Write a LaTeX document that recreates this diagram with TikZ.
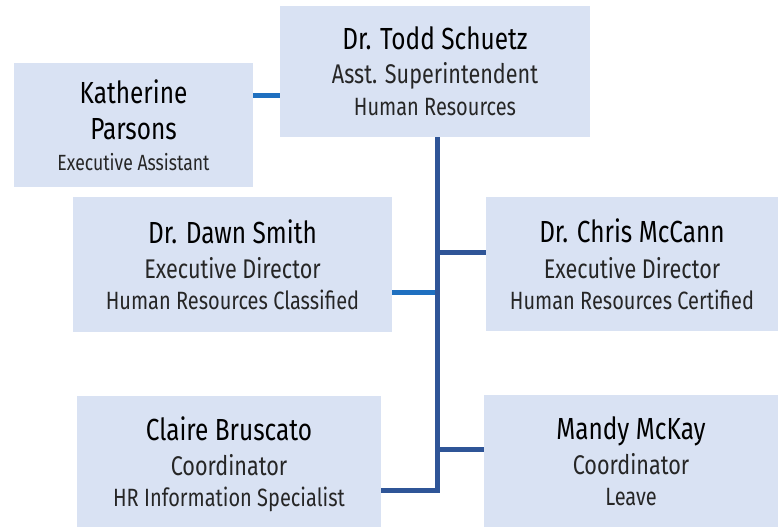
\documentclass[tikz,border=0pt]{standalone}
\usepackage{fontspec}
\setmainfont[FakeStretch=0.8]{Fira Sans}
\usepackage{tikz}

\definecolor{boxfill}{HTML}{D9E2F3}
\definecolor{trunkblue}{HTML}{2F5597}
\definecolor{linkblue}{HTML}{1F70C0}
\definecolor{subgray}{HTML}{262626}

\newcommand{\staffname}[1]{{\fontsize{30.5}{33}\selectfont\color{black}#1}}
\newcommand{\staffrole}[1]{{\fontsize{27}{33}\selectfont\color{subgray}#1}}
\newcommand{\staffdept}[1]{{\fontsize{25}{33}\selectfont\color{subgray}#1}}

\tikzset{
	staffbox/.style={shape=rectangle,fill=boxfill,inner sep=0pt,align=center,
		text depth=0pt,font=\fontsize{22.5}{33}\selectfont},
	trunk/.style={draw=trunkblue,line width=5pt},
	sidelink/.style={draw=linkblue,line width=5pt}
}

\begin{document}
\begin{tikzpicture}[x=1pt,y=-1pt]
	
	\useasboundingbox (0,0) rectangle (778,528);
	
	\node[staffbox,minimum width=310pt,minimum height=131pt] (todd)   at (435, 71.5)  {\staffname{Dr. Todd Schuetz}\\[1pt]\staffrole{Asst. Superintendent}\\[-1pt]\staffdept{Human Resources}};
	\node[staffbox,minimum width=239pt,minimum height=124pt] (kath)   at (133.5, 125) {\staffname{Katherine}\\[3pt]\staffname{Parsons}\\[-2pt]{\fontsize{22}{31}\selectfont\color{subgray}Executive Assistant}};
	\node[staffbox,minimum width=319pt,minimum height=135pt] (dawn)   at (232.5, 264.5) {\staffname{Dr. Dawn Smith}\\[2.5pt]\staffrole{Executive Director}\\[-2pt]\staffdept{Human Resources Classified}};
	\node[staffbox,minimum width=292pt,minimum height=134pt] (chris)  at (632, 264)   {\staffname{Dr. Chris McCann}\\[2.5pt]\staffrole{Executive Director}\\[-2pt]\staffdept{Human Resources Certified}};
	\node[staffbox,minimum width=304pt,minimum height=131pt] (claire) at (229, 461.5) {\staffname{Claire Bruscato}\\[2.5pt]\staffrole{Coordinator}\\[-2pt]\staffdept{HR Information Specialist}};
	\node[staffbox,minimum width=294pt,minimum height=132pt] (mandy)  at (631, 461)   {\staffname{Mandy McKay}\\[2.5pt]\staffrole{Coordinator}\\[-2pt]\staffdept{Leave}};
	
	\coordinate (kathjoin)   at (253, 95);
	\coordinate (chrisjoin)  at (437, 252);
	\coordinate (dawnjoin)   at (437, 292);
	\coordinate (mandyjoin)  at (437, 449);
	\coordinate (trunkend)   at (437, 490);
	
	\draw[sidelink] (kathjoin) -- (kathjoin -| todd.west);
	\draw[sidelink] (dawn.east |- dawnjoin) -- (dawnjoin);
	\draw[trunk] (todd.south -| trunkend) -- (trunkend) -- (trunkend -| claire.east);
	\draw[trunk] (chrisjoin) -- (chrisjoin -| chris.west);
	\draw[trunk] (mandyjoin) -- (mandyjoin -| mandy.west);
	
\end{tikzpicture}
\end{document}
